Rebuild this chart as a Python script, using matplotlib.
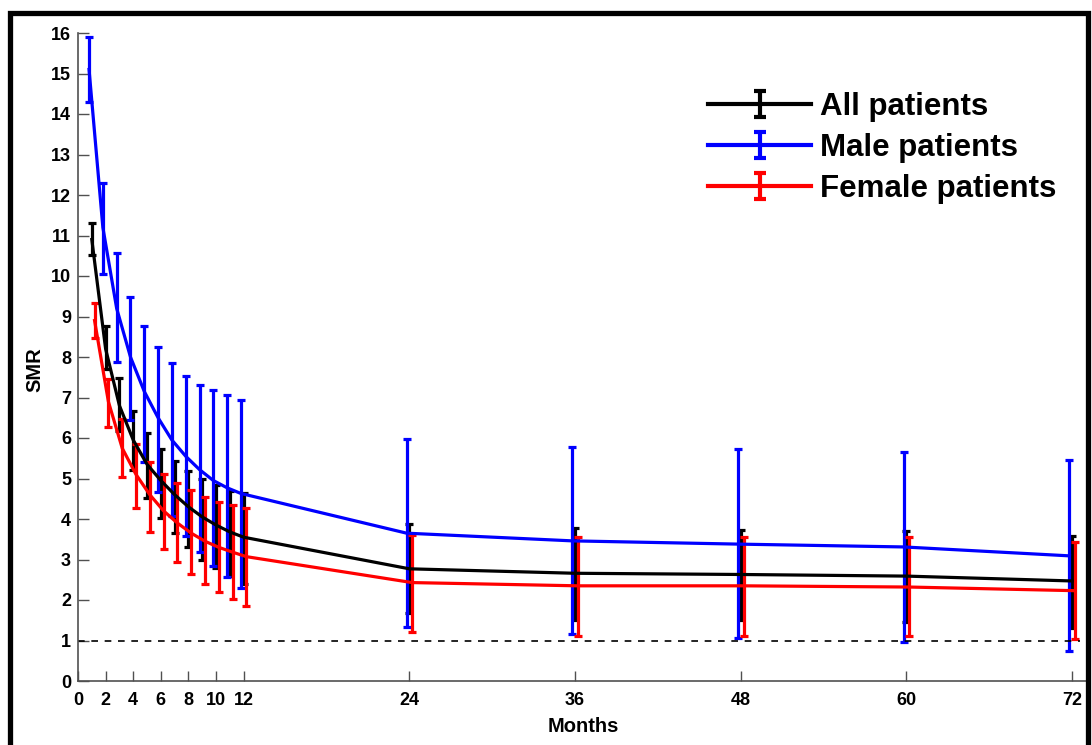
import numpy as np
import matplotlib.pyplot as plt
from matplotlib.patches import Rectangle
from matplotlib.legend_handler import HandlerErrorbar
from matplotlib.container import ErrorbarContainer

plt.rcParams['font.family'] = ['Liberation Sans', 'DejaVu Sans']
plt.rcParams['font.weight'] = 'bold'

# Months of follow-up
months = [1, 2, 3, 4, 5, 6, 7, 8, 9, 10, 11, 12, 24, 36, 48, 60, 72]

# All patients: SMR and 95% CI
all_smr = [10.9, 8.2, 6.8, 5.95, 5.35, 4.95, 4.6, 4.3, 4.05, 3.85, 3.68, 3.55, 2.77, 2.66, 2.63, 2.59, 2.47]
all_lo = [10.52, 7.7, 6.18, 5.21, 4.53, 4.03, 3.65, 3.30, 3.00, 2.78, 2.6, 2.4, 1.67, 1.5, 1.5, 1.46, 1.32]
all_hi = [11.32, 8.77, 7.47, 6.67, 6.12, 5.73, 5.44, 5.19, 4.99, 4.84, 4.70, 4.63, 3.88, 3.77, 3.73, 3.71, 3.58]

# Male patients
male_smr = [15.1, 11.2, 9.2, 8.0, 7.15, 6.5, 5.95, 5.55, 5.22, 4.95, 4.77, 4.63, 3.65, 3.46, 3.38, 3.31, 3.09]
male_lo = [14.3, 10.05, 7.88, 6.44, 5.41, 4.67, 4.08, 3.59, 3.18, 2.85, 2.56, 2.29, 1.33, 1.15, 1.05, 0.96, 0.75]
male_hi = [15.9, 12.3, 10.57, 9.49, 8.77, 8.25, 7.84, 7.54, 7.32, 7.19, 7.06, 6.94, 5.97, 5.79, 5.72, 5.65, 5.45]

# Female patients
female_smr = [8.9, 6.9, 5.75, 5.1, 4.6, 4.2, 3.9, 3.65, 3.45, 3.3, 3.18, 3.07, 2.43, 2.35, 2.35, 2.32, 2.23]
female_lo = [8.46, 6.28, 5.04, 4.28, 3.67, 3.26, 2.93, 2.64, 2.39, 2.20, 2.02, 1.85, 1.20, 1.12, 1.12, 1.11, 1.03]
female_hi = [9.34, 7.45, 6.46, 5.84, 5.40, 5.11, 4.89, 4.72, 4.55, 4.43, 4.34, 4.28, 3.60, 3.55, 3.55, 3.55, 3.44]

xticks = [0, 2, 4, 6, 8, 10, 12, 24, 36, 48, 60, 72]
yticks = list(range(0, 17))

fig = plt.figure(figsize=(10.92, 7.45), dpi=100)
ax = fig.add_axes([78 / 1092, 1 - 681 / 745, 1008 / 1092, 648 / 745])

series = [
    ('All patients', 'black', 0.0, all_smr, all_lo, all_hi),
    ('Male patients', 'blue', -0.2, male_smr, male_lo, male_hi),
    ('Female patients', 'red', 0.2, female_smr, female_lo, female_hi),
]

handles = []
for label, color, shift, smr, lo, hi in series:
    x = np.array(months) + shift
    smr = np.array(smr)
    yerr = [smr - np.array(lo), np.array(hi) - smr]
    ax.errorbar(x, smr, yerr=yerr, color=color, lw=2.3, elinewidth=2.3,
                capsize=2.6, capthick=2.3)
    # proxy with bigger caps for the legend
    h = ax.errorbar([np.nan], [np.nan], yerr=[[1], [1]], color=color, lw=3,
                    elinewidth=3, capsize=4.5, capthick=3, label=label)
    handles.append(h)

ax.axhline(1, color='black', lw=1.2, ls=(0, (4, 4)), xmin=0, xmax=72.6 / 73)

ax.set_xlim(0, 73)
ax.set_ylim(0, 16)
ax.set_xticks(xticks)
ax.set_yticks(yticks)
ax.tick_params(direction='in', color='#505050', labelsize=13, width=1)
ax.tick_params(axis='x', length=7, pad=8)
ax.tick_params(axis='y', length=8, pad=5)
for s in ['top', 'right']:
    ax.spines[s].set_visible(False)
for s in ['left', 'bottom']:
    ax.spines[s].set_color('#505050')
    ax.spines[s].set_linewidth(1.2)

ax.set_xlabel('Months', fontsize=14.5, fontweight='bold')
ax.set_ylabel('SMR', fontsize=14.5, fontweight='bold')
ax.xaxis.set_label_coords(0.501, -0.056)
ax.yaxis.set_label_coords(-0.033, 0.48)

ax.legend(handles=handles, loc='upper left', bbox_to_anchor=(708 / 1092, 1 - 92 / 745),
          bbox_transform=fig.transFigure, frameon=False,
          handlelength=3.3, handletextpad=0.3, labelspacing=0.35,
          borderpad=0, borderaxespad=0,
          handler_map={ErrorbarContainer: HandlerErrorbar(yerr_size=0.42)},
          prop={'weight': 'bold', 'size': 22.5})

# thick frame around the figure
fig.patches.append(Rectangle((9.5 / 1092, -0.1), (1088 - 9.5) / 1092, 1.1 - 12.5 / 745,
                             transform=fig.transFigure, fill=False,
                             edgecolor='black', lw=3.8, zorder=10))

fig.savefig('out.png', dpi=100)
